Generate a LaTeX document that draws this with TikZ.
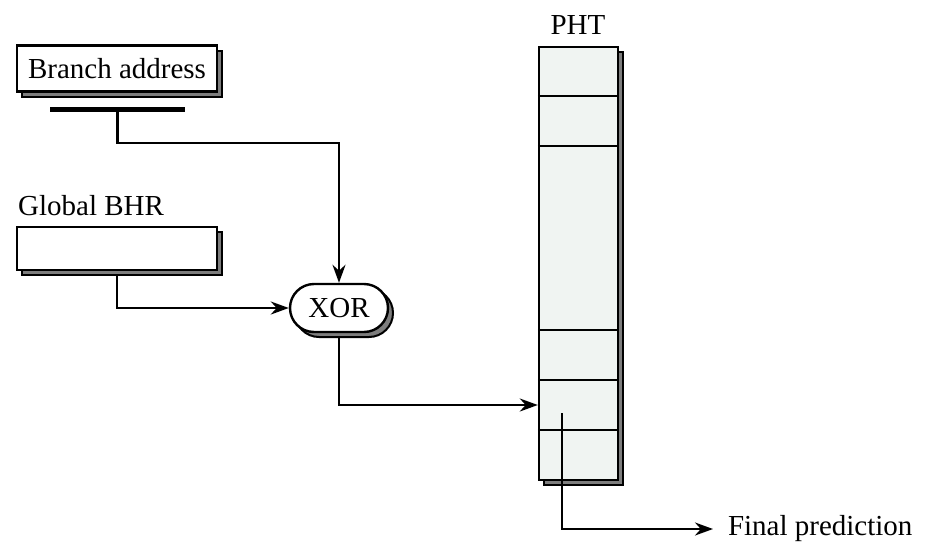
\documentclass[tikz,border=0pt]{standalone}
\usepackage{fontspec}
\setmainfont{Liberation Serif}
\usetikzlibrary{shapes.misc,shadows,arrows.meta,backgrounds}
\definecolor{cellfill}{RGB}{240,244,242}
\definecolor{shadowgray}{RGB}{125,125,125}
\begin{document}
\begin{tikzpicture}[x=1pt,y=-1pt,
  lbl/.style={font=\fontsize{29}{34}\selectfont, inner sep=0pt},
  shadowed/.style={draw=black, line width=2.4pt,
    drop shadow={shadow xshift=5pt, shadow yshift=-5pt, fill=shadowgray,
      draw=black, line width=2pt, opacity=1}},
  regbox/.style={shadowed, fill=white, minimum width=200pt, inner sep=0pt, lbl},
  wire/.style={line width=2.4pt},
  arr/.style={wire, -{Stealth[length=18pt,width=13pt]}},
]
\useasboundingbox (0,0) rectangle (940,549);

% registers
\node[regbox, minimum height=46pt] (ba) at (117,68.5) {Branch address};
\node[fill=black, minimum width=135pt, minimum height=5pt, inner sep=0pt] (bar) at (117.5,109) {};
\node[lbl, anchor=west] (bhrl) at (18,206) {Global BHR};
\node[regbox, minimum height=43pt] (bhr) at (117,248.5) {};

% hash unit
\node[shadowed, fill=white, rounded rectangle, minimum width=98pt, minimum height=48pt,
      inner sep=0pt, lbl] (xor) at (339,308) {XOR};

% pattern history table
\node[lbl] (phtl) at (578,25) {PHT};
\node[shadowed, fill=cellfill, minimum width=79pt, minimum height=433pt, inner sep=0pt]
  (pht) at (578.5,263.5) {};
\foreach \y in {96,146,330,380,430}
  \draw[wire] (pht.west |- 0,\y) -- (pht.east |- 0,\y);
\coordinate (phtin) at (pht.west |- 0,405);
\coordinate (phtout) at (562,413);

\node[lbl, anchor=west, outer xsep=15pt] (fp) at (713,529) {Final prediction};

% connectors
\begin{scope}[on background layer]
  \draw[arr] (bar.south) -- ++(0,31) -| (xor.north);
  \draw[arr] (bhr.south) |- (xor.west);
  \draw[arr] (xor.south) |- (phtin);
\end{scope}
\draw[arr] (phtout) |- (fp.west);
\end{tikzpicture}
\end{document}
